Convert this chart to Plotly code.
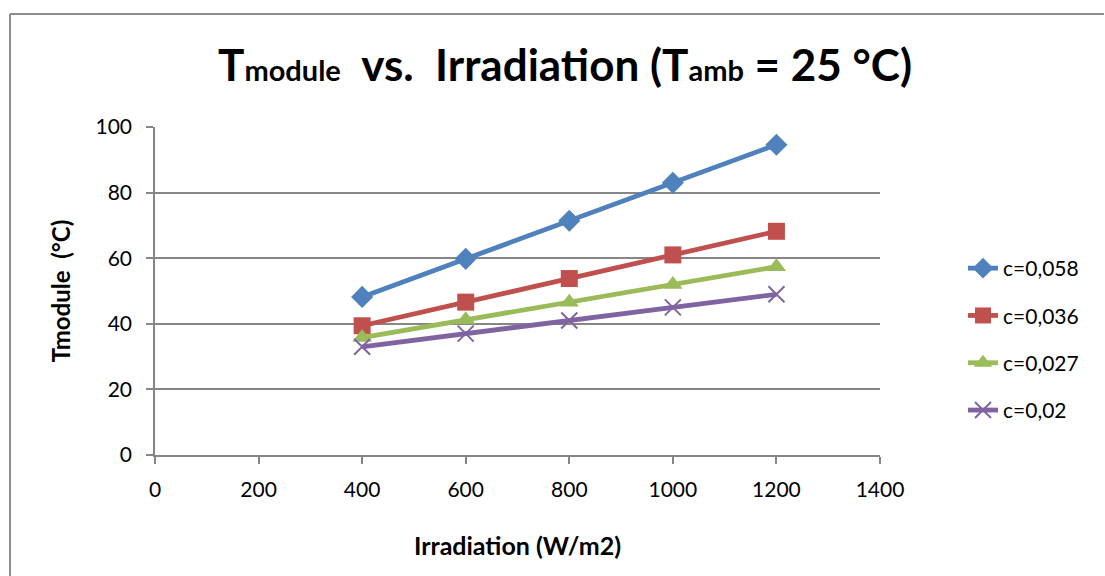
import plotly.graph_objects as go

irradiation = [400, 600, 800, 1000, 1200]
series_names = ["c=0,058", "c=0,036", "c=0,027", "c=0,02"]
t_c058 = [48.2, 59.8, 71.4, 83.0, 94.6]
t_c036 = [39.4, 46.6, 53.8, 61.0, 68.2]
t_c027 = [35.8, 41.2, 46.6, 52.0, 57.4]
t_c020 = [33.0, 37.0, 41.0, 45.0, 49.0]
x_ticks = [0, 200, 400, 600, 800, 1000, 1200, 1400]
y_ticks = [0, 20, 40, 60, 80, 100]

colors = ["#4F81BD", "#C0504D", "#9BBB59", "#8064A2"]
symbols = ["diamond", "square", "triangle-up", "x-thin"]
sizes = [17, 17, 17, 16]
FONT = "Lato, Open Sans, sans-serif"

fig = go.Figure()
for i, (name, ys) in enumerate(zip(series_names, [t_c058, t_c036, t_c027, t_c020])):
    marker = dict(symbol=symbols[i], size=sizes[i], color=colors[i])
    if symbols[i] == "x-thin":
        marker["line"] = dict(color=colors[i], width=2)
    fig.add_trace(go.Scatter(
        x=irradiation, y=ys, name=name, mode="lines+markers",
        line=dict(color=colors[i], width=4.8), marker=marker,
        legendgroup=name,
    ))

small = "font-size:29px"
fig.update_layout(
    width=1105, height=576,
    margin=dict(l=155, r=225, t=127, b=121),
    paper_bgcolor="white", plot_bgcolor="white",
    font=dict(family=FONT, color="black"),
    title=dict(
        text=f"<b>T<span style='{small}'>module</span>  vs.  Irradiation (T<span style='{small}'>amb</span> = 25 °C)</b>",
        x=565/1105, xanchor="center", y=1-66/576, yanchor="middle",
        font=dict(size=44, family=FONT, color="black"),
    ),
    xaxis=dict(
        range=[0, 1400], tickvals=x_ticks, showgrid=False,
        showline=True, linecolor="#868686", linewidth=1.5,
        ticks="outside", ticklen=7, tickcolor="#868686", tickwidth=1.5,
        tickfont=dict(size=21, family=FONT), zeroline=False, ticklabelstandoff=8,
        title=dict(text="<b>Irradiation (W/m2)</b>", font=dict(size=25, family=FONT), standoff=38),
    ),
    yaxis=dict(
        range=[0, 100], tickvals=y_ticks, showgrid=True, gridcolor="#868686", gridwidth=1.5,
        showline=True, linecolor="#868686", linewidth=1.5,
        ticks="outside", ticklen=7, tickcolor="#868686", tickwidth=1.5,
        tickfont=dict(size=21, family=FONT), zeroline=False, ticklabelstandoff=10,
        title=dict(text="<b>Tmodule  (°C)</b>", font=dict(size=24, family=FONT), standoff=18),
    ),
    legend=dict(
        x=(963-155)/725, y=(455-248)/328, xanchor="left", yanchor="top",
        font=dict(size=21, family=FONT), tracegroupgap=17, bgcolor="rgba(0,0,0,0)",
    ),
    showlegend=True,
)

# outer chart border (left and top edges as in the reference)
fig.add_shape(type="line", xref="paper", yref="paper",
              x0=(10-155)/725, x1=(1104-155)/725, y0=(455-14)/328, y1=(455-14)/328,
              line=dict(color="#8C8C8C", width=2))
fig.add_shape(type="line", xref="paper", yref="paper",
              x0=(10-155)/725, x1=(10-155)/725, y0=(455-14)/328, y1=(455-576)/328,
              line=dict(color="#8C8C8C", width=2))

fig.write_html("out.html")
